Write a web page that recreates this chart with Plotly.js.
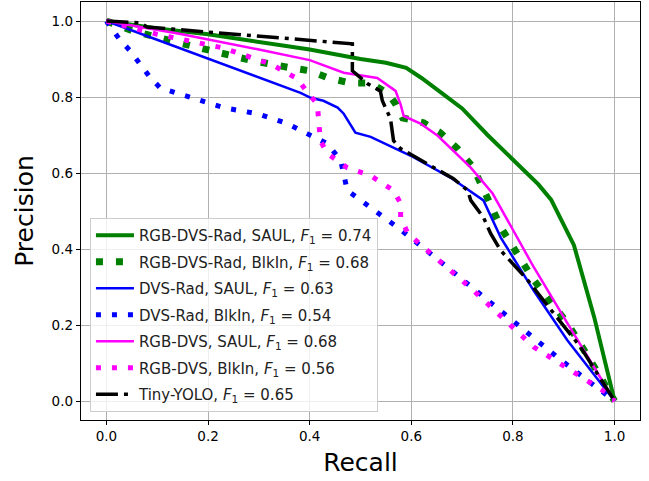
<!DOCTYPE html>
<html><head><meta charset="utf-8">
<script src="https://cdn.plot.ly/plotly-3.0.1.min.js"></script>
<style>html,body{margin:0;padding:0;background:#fff}#chart{width:649px;height:481px}</style>
</head><body><div id="chart"></div>
<script>
// RGB-DVS-Rad, SAUL
const gsX = [0, 0.05, 0.1, 0.2, 0.3, 0.4, 0.5, 0.55, 0.59, 0.62, 0.66, 0.70, 0.75, 0.80, 0.85, 0.875, 0.92, 0.96, 1.0];
const gsY = [1.0, 0.99, 0.98, 0.965, 0.945, 0.925, 0.9, 0.89, 0.877, 0.85, 0.81, 0.77, 0.70, 0.635, 0.57, 0.53, 0.41, 0.22, 0.0];
// RGB-DVS-Rad, BlkIn
const gdX = [0, 0.05, 0.126, 0.205, 0.289, 0.362, 0.40, 0.437, 0.48, 0.52, 0.555, 0.57, 0.583, 0.624, 0.657, 0.691, 0.722, 0.752, 0.776, 0.841, 0.907, 0.96, 1.0];
const gdY = [1.0, 0.975, 0.948, 0.921, 0.895, 0.877, 0.869, 0.85, 0.837, 0.837, 0.808, 0.78, 0.745, 0.732, 0.706, 0.664, 0.614, 0.528, 0.457, 0.318, 0.205, 0.09, 0.0];
// DVS-Rad, SAUL
const bsX = [0, 0.1, 0.2, 0.3, 0.382, 0.402, 0.427, 0.455, 0.467, 0.49, 0.52, 0.598, 0.677, 0.742, 0.776, 0.841, 0.907, 1.0];
const bsY = [1.0, 0.95, 0.9, 0.85, 0.811, 0.798, 0.79, 0.772, 0.756, 0.706, 0.695, 0.646, 0.588, 0.528, 0.43, 0.29, 0.16, 0.0];
// DVS-Rad, BlkIn
const bdX = [0, 0.024, 0.047, 0.087, 0.106, 0.171, 0.23, 0.297, 0.356, 0.396, 0.435, 0.461, 0.467, 0.474, 0.52, 0.573, 0.671, 0.776, 0.894, 1.0];
const bdY = [1.0, 0.955, 0.921, 0.85, 0.824, 0.798, 0.772, 0.756, 0.73, 0.703, 0.677, 0.633, 0.6, 0.554, 0.509, 0.457, 0.352, 0.239, 0.108, 0.0];
// RGB-DVS, SAUL
const msX = [0, 0.146, 0.3, 0.4, 0.467, 0.533, 0.569, 0.579, 0.585, 0.618, 0.652, 0.717, 0.76, 0.841, 0.907, 1.0];
const msY = [1.0, 0.966, 0.925, 0.897, 0.864, 0.85, 0.816, 0.78, 0.75, 0.73, 0.698, 0.614, 0.546, 0.352, 0.205, 0.0];
// RGB-DVS, BlkIn
const mdX = [0, 0.1, 0.23, 0.323, 0.376, 0.396, 0.415, 0.417, 0.421, 0.435, 0.474, 0.52, 0.553, 0.565, 0.579, 0.579, 0.593, 0.722, 0.841, 0.986, 1.0];
const mdY = [1.0, 0.965, 0.929, 0.887, 0.848, 0.811, 0.782, 0.738, 0.685, 0.651, 0.614, 0.593, 0.567, 0.554, 0.52, 0.483, 0.441, 0.291, 0.142, 0.02, 0.0];
// Tiny-YOLO
const kX = [0, 0.066, 0.08, 0.48, 0.484, 0.484, 0.514, 0.539, 0.543, 0.559, 0.565, 0.579, 0.644, 0.683, 0.711, 0.717, 0.742, 0.756, 0.776, 0.829, 0.88, 0.933, 1.0];
const kY = [1.0, 0.995, 0.984, 0.94, 0.94, 0.869, 0.835, 0.816, 0.79, 0.743, 0.685, 0.664, 0.614, 0.585, 0.554, 0.528, 0.483, 0.441, 0.396, 0.318, 0.231, 0.142, 0.0];

const names = [
  'RGB-DVS-Rad, SAUL, <i>F</i><sub>1</sub> = 0.74',
  'RGB-DVS-Rad, BlkIn, <i>F</i><sub>1</sub> = 0.68',
  'DVS-Rad, SAUL, <i>F</i><sub>1</sub> = 0.63',
  'DVS-Rad, BlkIn, <i>F</i><sub>1</sub> = 0.54',
  'RGB-DVS, SAUL, <i>F</i><sub>1</sub> = 0.68',
  'RGB-DVS, BlkIn, <i>F</i><sub>1</sub> = 0.56',
  'Tiny-YOLO, <i>F</i><sub>1</sub> = 0.65'
];
const xs = [gsX, gdX, bsX, bdX, msX, mdX, kX];
const ys = [gsY, gdY, bsY, bdY, msY, mdY, kY];
const styles = [
  {color:'#008000', width:4, dash:'solid'},
  {color:'#008000', width:7, dash:'7px,13px'},
  {color:'#0000ff', width:2.5, dash:'solid'},
  {color:'#0000ff', width:5, dash:'5px,11px'},
  {color:'#ff00ff', width:2.5, dash:'solid'},
  {color:'#ff00ff', width:5, dash:'5px,11px'},
  {color:'#000000', width:3.5, dash:'22px,6px,4px,6px'}
];
const traces = names.map((n,i)=>({
  x: xs[i], y: ys[i], name: n, type:'scatter', mode:'lines',
  line: styles[i], legendgroup:'g'+i
}));

const fontFam = 'DejaVu Sans, sans-serif';
const layout = {
  width:649, height:481,
  margin:{l:81, r:9, t:2, b:61},
  paper_bgcolor:'#fff', plot_bgcolor:'#fff',
  font:{family:fontFam, color:'#000', size:13.5},
  showlegend:true,
  legend:{x:0.016, y:0.019, xanchor:'left', yanchor:'bottom',
    bgcolor:'rgba(255,255,255,0.8)', bordercolor:'#cccccc', borderwidth:1,
    font:{family:fontFam, size:15, color:'#222'},
    itemwidth:38,
    traceorder:'grouped', tracegroupgap:4},
  xaxis:{range:[-0.05,1.05], dtick:0.2, tick0:0, tickformat:'.1f',
    showgrid:true, gridcolor:'#b0b0b0', gridwidth:1, zeroline:false,
    showline:true, linecolor:'#000', linewidth:1.2, mirror:true,
    ticks:'outside', ticklen:4, tickcolor:'#000',
    title:{text:'Recall', font:{size:25, family:fontFam}, standoff:10}},
  yaxis:{range:[-0.05,1.05], dtick:0.2, tick0:0, tickformat:'.1f',
    showgrid:true, gridcolor:'#b0b0b0', gridwidth:1, zeroline:false,
    showline:true, linecolor:'#000', linewidth:1.2, mirror:true,
    ticks:'outside', ticklen:4, tickcolor:'#000',
    title:{text:'Precision', font:{size:25, family:fontFam}, standoff:10}}
};
Plotly.newPlot('chart', traces, layout, {displayModeBar:false, staticPlot:true});
</script></body></html>
